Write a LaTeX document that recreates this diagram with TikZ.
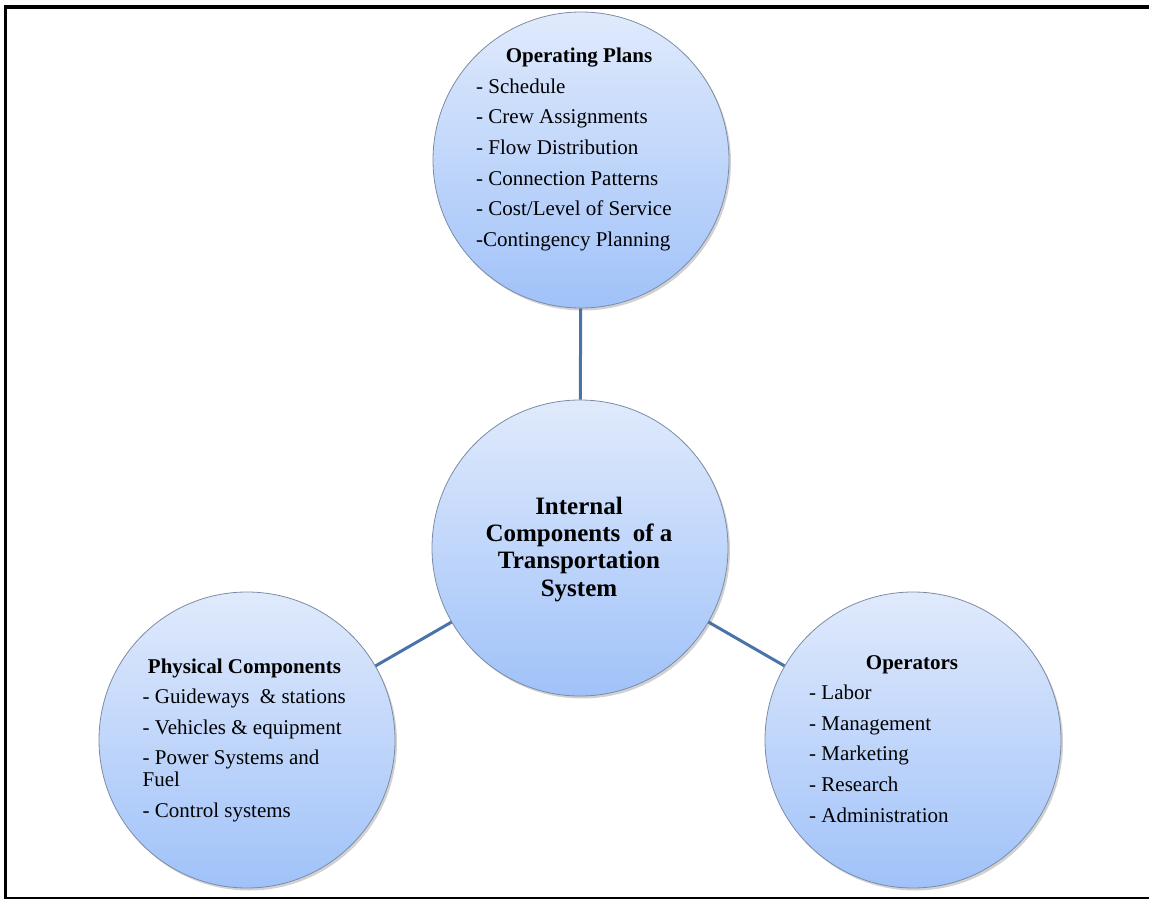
\documentclass[tikz,border=0pt]{standalone}
\usepackage{fontspec}
\setmainfont{Liberation Serif}
\usetikzlibrary{shadows}
\definecolor{edgeblue}{RGB}{74,116,168}
\definecolor{ctop}{RGB}{224,234,252}
\definecolor{cbot}{RGB}{160,194,249}
\definecolor{cborder}{RGB}{125,140,165}
\tikzset{
  bubble/.style={circle, minimum size=296pt, inner sep=0pt, draw=cborder, line width=0.8pt,
    top color=ctop, bottom color=cbot,
    drop shadow={shadow xshift=2pt, shadow yshift=-2.5pt, opacity=0.3, fill=black!60}},
  link/.style={draw=edgeblue, line width=3pt},
  head/.style={font=\fontsize{21}{24}\selectfont\bfseries, anchor=base, inner sep=0pt},
  item/.style={font=\fontsize{21}{24}\selectfont, anchor=base west, inner sep=0pt},
  title/.style={font=\fontsize{25}{27.5}\selectfont\bfseries, anchor=base, inner sep=0pt},
}
\begin{document}
\begin{tikzpicture}[x=1pt,y=-1pt]
\useasboundingbox (0,0) rectangle (1149,899);
% frame
\draw[line width=4pt] (5,7) -- (1149,7);
\draw[line width=3pt] (5.5,5) -- (5.5,899);
\draw[line width=2pt] (4,898) -- (1149,898);
% bubbles
\node[bubble] (plans) at (581,160) {};
\node[bubble] (core) at (580,548) {};
\node[bubble] (phys) at (247,740) {};
\node[bubble] (oper) at (913,740) {};
% connectors
\draw[link] (plans) -- (core);
\draw[link] (core) -- (phys);
\draw[link] (core) -- (oper);
% core title
\foreach \t [count=\i] in {Internal, Components\ \ of a, Transportation, System}
  \node[title] (core\i) at (579, {514+27.4*(\i-1)}) {\t};
% operating plans
\node[head] (plansH) at (579,63) {Operating Plans};
\foreach \t [count=\i] in {- Schedule, - Crew Assignments, - Flow Distribution, - Connection Patterns, - Cost/Level of Service, -Contingency Planning}
  \node[item] (plans\i) at (476, {63+30.5*\i}) {\t};
% physical components
\node[head] (physH) at (244.5,673) {Physical Components};
\node[item] (phys1) at (142.5,703.5) {- Guideways\ \ \& stations};
\node[item] (phys2) at (142.5,734) {- Vehicles \& equipment};
\node[item] (phys3) at (142.5,764.5) {- Power Systems and};
\node[item] (phys4) at (142.5,786.5) {Fuel};
\node[item] (phys5) at (142.5,817) {- Control systems};
% operators
\node[head] (operH) at (912,669) {Operators};
\foreach \t [count=\i] in {- Labor, - Management, - Marketing, - Research, - Administration}
  \node[item] (oper\i) at (809, {669+30.6*\i}) {\t};
\end{tikzpicture}
\end{document}
